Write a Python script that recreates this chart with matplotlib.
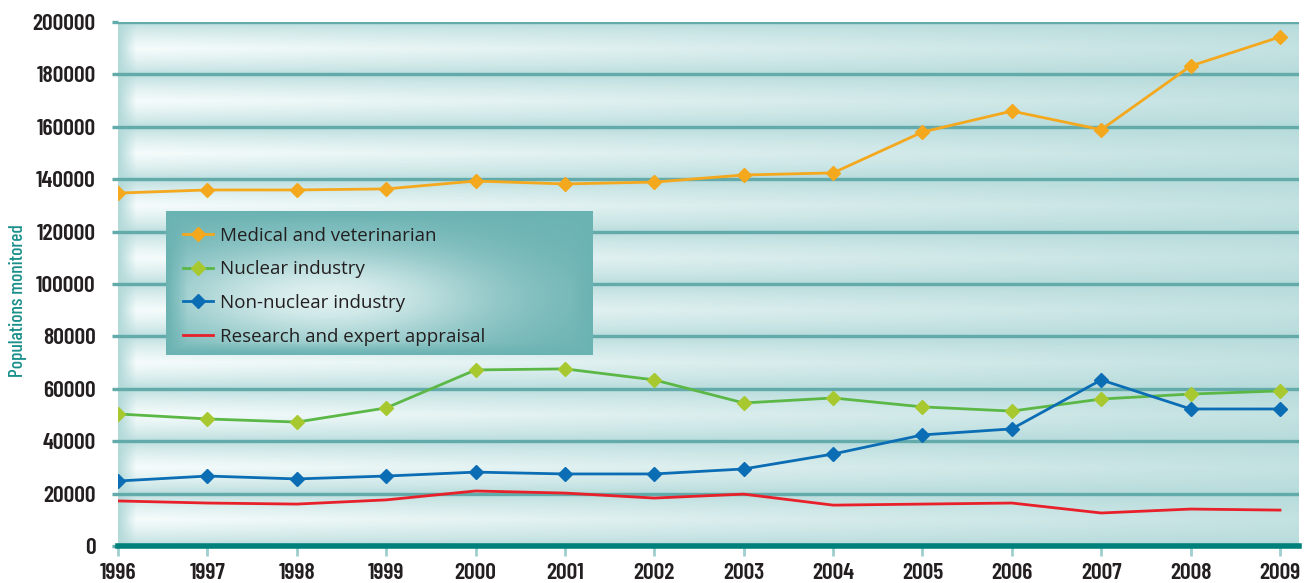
import numpy as np
import matplotlib.pyplot as plt

# data
annees = [1996, 1997, 1998, 1999, 2000, 2001, 2002, 2003, 2004, 2005, 2006, 2007, 2008, 2009]
medical = [134700, 135900, 135900, 136300, 139300, 138200, 138900, 141600, 142400,
           158000, 166000, 158900, 183200, 194300]
nucleaire = [50400, 48500, 47300, 52700, 67200, 67600, 63400, 54600, 56500,
             53100, 51500, 56100, 58000, 59200]
non_nucleaire = [24800, 26700, 25600, 26700, 28200, 27500, 27500, 29400, 35100,
                 42400, 44700, 63400, 52300, 52300]
recherche = [17200, 16400, 16000, 17600, 21000, 20200, 18300, 19800, 15600,
             16000, 16400, 12600, 14100, 13700]
graduation = [0, 20000, 40000, 60000, 80000, 100000, 120000, 140000, 160000, 180000, 200000]

fig = plt.figure(figsize=(13.12, 5.83), dpi=100)
ax = fig.add_axes([118 / 1312, 37 / 583, 1181 / 1312, 524 / 583])

x0, x1 = 1996, 2009 + 19 / 89.4
ax.set_xlim(x0, x1)
ax.set_ylim(0, 200000)

# fond : bandes horizontales degradees entre les lignes de grille
h, w = 524, 1181
yy = np.linspace(0, 10, h)[:, None]
xx = np.linspace(0, 1, w)[None, :]
d = np.abs(yy - np.round(yy)) / 0.5          # 0 sur la grille, 1 au milieu
bande = np.clip(d, 0, 1) ** 0.6
fade = 1 - 0.75 * xx ** 0.9
bord = np.clip(xx * w / 18, 0, 1)
t = bande * fade * bord
t = t[..., None]
teal = np.array([0.70, 0.85, 0.85])
blanc = np.array([0.97, 0.99, 0.99])
fond = teal * (1 - t) + blanc * t
ax.imshow(fond, extent=[x0, x1, 0, 200000], aspect='auto', origin='lower', zorder=0)

for g in graduation[1:]:
    ax.axhline(g, color='#63abab', lw=2.4, zorder=1)

ax.plot(annees, medical, color='#f4a81d', lw=2, marker='D', ms=7, mfc='#f4a81d', mec='#f4a81d',
        zorder=4, label='Medical and veterinarian')
ax.plot(annees, nucleaire, color='#5cb846', lw=2, marker='D', ms=7, mfc='#a8c830', mec='#a8c830',
        zorder=4, label='Nuclear industry')
ax.plot(annees, non_nucleaire, color='#0b6db4', lw=2, marker='D', ms=7, mfc='#0b6db4', mec='#0b6db4',
        zorder=4, label='Non-nuclear industry')
ax.plot(annees, recherche, color='#e8202a', lw=2, zorder=4, label='Research and expert appraisal')

# cadre de la legende avec degrade
lx0, lx1, ly0, ly1 = 0.041, 0.402, 0.365, 0.639
gy = np.linspace(-1, 1, 120)[:, None]
gx = np.linspace(-1, 1, 360)[None, :]
r2 = ((gx + 0.25) / 1.0) ** 2 + ((gy + 0.2) / 0.9) ** 2
tl = np.exp(-1.6 * r2)
bord_l = np.clip(np.minimum(np.minimum(gx + 1, 1 - gx) * 10, np.minimum(gy + 1, 1 - gy) * 6), 0, 1)
tl = (tl * bord_l)[..., None]
teal_l = np.array([0.42, 0.70, 0.70])
clair = np.array([0.87, 0.94, 0.94])
boite = teal_l * (1 - tl) + clair * tl
ax.imshow(boite, extent=[lx0, lx1, ly0, ly1], transform=ax.transAxes, aspect='auto',
          zorder=5, origin='lower')
leg = ax.legend(loc='upper left', bbox_to_anchor=(0.055, 0.609), frameon=False,
                prop={'family': 'Open Sans', 'size': 13.5}, handlelength=1.6,
                labelspacing=0.83, borderpad=0, borderaxespad=0, handletextpad=0.35)
leg.set_zorder(6)
for txt in leg.get_texts():
    txt.set_color('#231f20')

for s in ['top', 'right', 'left']:
    ax.spines[s].set_visible(False)
ax.spines['bottom'].set_color('#00807a')
ax.spines['bottom'].set_linewidth(4)
ax.spines['bottom'].set_zorder(3)

police = {'family': ['Barlow Condensed', 'DejaVu Sans'], 'weight': 600, 'size': 17}
ax.set_xticks(annees)
ax.set_xticklabels([str(a) for a in annees], fontdict=police, color='#231f20')
ax.set_yticks(graduation)
ax.set_yticklabels([str(g) for g in graduation], fontdict=police, color='#231f20')
ax.tick_params(axis='x', length=7, width=2, color='#9fcfcf', pad=5)
ax.tick_params(axis='y', length=4, width=2.4, color='#63abab', pad=12)

ax.set_ylabel('Populations monitored', color='#1a8f8a',
              fontdict={'family': ['Barlow Condensed', 'DejaVu Sans'], 'weight': 500, 'size': 14})
ax.yaxis.set_label_coords(-0.077, 0.468)

fig.savefig('out.png', dpi=100)
